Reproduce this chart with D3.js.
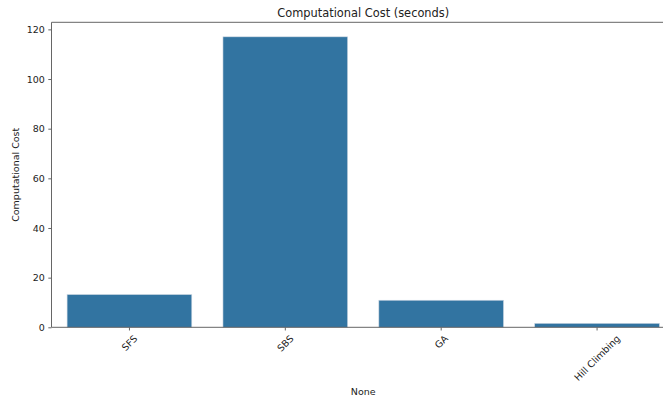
<!DOCTYPE html>
<html><head><meta charset="utf-8">
<script src="https://cdn.jsdelivr.net/npm/d3@7"></script>
<style>body{margin:0;background:#fff}svg{display:block}text{font-family:"DejaVu Sans",sans-serif;fill:#222}</style>
</head><body><svg id="c" width="663" height="399"></svg>
<script>
const categories = ["SFS", "SBS", "GA", "Hill Climbing"];
const values = [13.2, 117.0, 10.9, 1.6];
const yTicks = [0, 20, 40, 60, 80, 100, 120];
const title = "Computational Cost (seconds)";
const xLabel = "None";
const yLabel = "Computational Cost";

const svg = d3.select("#c");
const L = 51.5, R = 675, T = 22.3, B = 327.3;
const x = d3.scaleBand().domain(categories).range([L, R]).paddingInner(0.2).paddingOuter(0.1);
const y = d3.scaleLinear().domain([0, 117 * 1.05]).range([B, T]);
const col = "#3274a1", axc = "#666";

svg.selectAll("rect.bar").data(values).join("rect").attr("class", "bar")
  .attr("x", (d, i) => x(categories[i])).attr("width", x.bandwidth())
  .attr("y", d => y(d)).attr("height", d => B - y(d))
  .attr("fill", col).attr("stroke", "#cfd9e3").attr("stroke-width", 0.6);

// spines
svg.append("line").attr("x1", L).attr("x2", L).attr("y1", T).attr("y2", B).attr("stroke", axc).attr("stroke-width", 1);
svg.append("line").attr("x1", L).attr("x2", 663).attr("y1", T).attr("y2", T).attr("stroke", axc).attr("stroke-width", 1);
svg.append("line").attr("x1", L).attr("x2", 663).attr("y1", B).attr("y2", B).attr("stroke", axc).attr("stroke-width", 1);

const fs = 9.5;
// y axis
const ya = svg.append("g").attr("transform", `translate(${L},0)`)
  .call(d3.axisLeft(y).tickValues(yTicks).tickSize(3.2).tickPadding(3.5));
ya.select(".domain").remove();
ya.selectAll("line").attr("stroke", axc);
ya.selectAll("text").attr("font-size", fs).attr("fill", "#222").style("font-family", "DejaVu Sans");

// x axis
const xa = svg.append("g").attr("transform", `translate(0,${B})`)
  .call(d3.axisBottom(x).tickSize(3.2).tickFormat(""));
xa.select(".domain").remove();
xa.selectAll("line").attr("stroke", axc);

categories.forEach(c => {
  const cx = x(c) + x.bandwidth() / 2;
  const t = svg.append("text").attr("font-size", fs).attr("text-anchor", "middle")
    .attr("dominant-baseline", "central").text(c);
  const w = t.node().getComputedTextLength();
  const h = fs * 1.1;
  const bh = (w + h) * Math.SQRT1_2;
  const cy = B + 3.2 + 2.5 + bh / 2;
  t.attr("transform", `translate(${cx},${cy}) rotate(-45)`);
});

svg.append("text").attr("x", (L + R) / 2).attr("y", 395).attr("text-anchor", "middle")
  .attr("font-size", fs).text(xLabel);
svg.append("text").attr("transform", `translate(18.5,${(T + B) / 2}) rotate(-90)`).attr("text-anchor", "middle")
  .attr("font-size", fs).text(yLabel);
svg.append("text").attr("x", (L + R) / 2).attr("y", 17).attr("text-anchor", "middle")
  .attr("font-size", 11.4).text(title);
</script></body></html>
